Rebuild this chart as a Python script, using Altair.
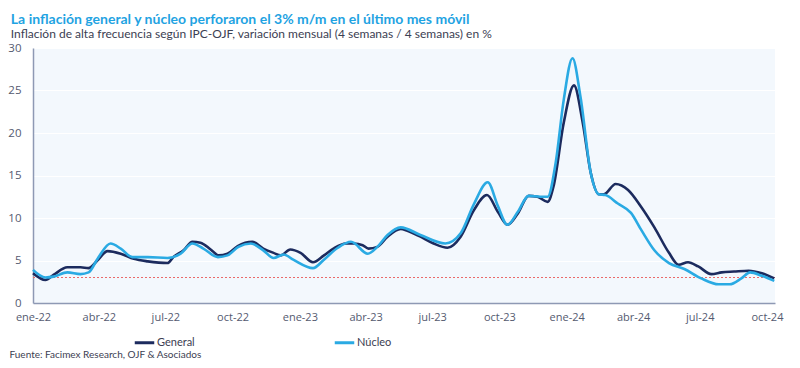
import altair as alt
import pandas as pd

# ---- data ----
gen_dates = [
    "2022-01-01", "2022-01-18", "2022-01-29", "2022-02-17", "2022-03-07", "2022-03-18",
    "2022-03-30", "2022-04-13", "2022-05-01", "2022-05-19", "2022-06-07", "2022-07-04",
    "2022-07-12", "2022-07-26", "2022-08-07", "2022-08-18", "2022-09-01", "2022-09-12",
    "2022-09-24", "2022-10-08", "2022-10-28", "2022-11-12", "2022-11-26", "2022-12-06",
    "2022-12-19", "2023-01-02", "2023-01-19", "2023-02-03", "2023-02-16", "2023-03-05",
    "2023-03-16", "2023-03-28", "2023-04-05", "2023-04-17", "2023-05-01", "2023-05-19",
    "2023-05-28", "2023-06-15", "2023-07-03", "2023-07-22", "2023-08-09", "2023-08-27",
    "2023-09-14", "2023-09-29", "2023-10-12", "2023-10-26", "2023-11-10", "2023-11-22",
    "2023-12-06", "2023-12-14", "2023-12-28", "2024-01-11", "2024-01-23", "2024-02-03",
    "2024-02-14", "2024-02-21", "2024-03-08", "2024-03-25", "2024-04-12", "2024-04-30",
    "2024-05-20", "2024-06-02", "2024-06-15", "2024-06-29", "2024-07-17", "2024-07-31",
    "2024-08-17", "2024-09-06", "2024-09-24", "2024-10-11",
]
gen_values = [
    3.5, 2.7, 3.3, 4.2, 4.2, 4.1,
    5.0, 6.1, 5.8, 5.2, 4.9, 4.7,
    5.4, 6.2, 7.2, 7.1, 6.3, 5.6,
    5.8, 6.7, 7.2, 6.4, 5.9, 5.6,
    6.3, 5.9, 4.8, 5.6, 6.4, 7.0,
    7.0, 6.8, 6.4, 6.6, 7.8, 8.7,
    8.5, 7.8, 7.0, 6.5, 7.8, 10.9,
    12.7, 10.7, 9.2, 10.5, 12.6, 12.5,
    11.9, 13.7, 21.2, 25.6, 21.2, 15.3,
    12.8, 12.8, 14.0, 13.3, 11.3, 8.9,
    5.9, 4.5, 4.8, 4.3, 3.4, 3.6,
    3.7, 3.8, 3.5, 2.9,
]

nuc_dates = [
    "2022-01-01", "2022-01-18", "2022-01-29", "2022-02-17", "2022-03-07", "2022-03-18",
    "2022-03-31", "2022-04-17", "2022-05-01", "2022-05-17", "2022-06-07", "2022-07-04",
    "2022-07-22", "2022-08-07", "2022-08-22", "2022-09-11", "2022-09-24", "2022-10-09",
    "2022-10-26", "2022-11-12", "2022-11-26", "2022-12-10", "2022-12-23", "2023-01-19",
    "2023-02-03", "2023-02-22", "2023-03-12", "2023-04-04", "2023-04-17", "2023-05-01",
    "2023-05-19", "2023-06-15", "2023-07-19", "2023-08-09", "2023-08-27", "2023-09-15",
    "2023-09-29", "2023-10-12", "2023-10-26", "2023-11-10", "2023-11-26", "2023-12-06",
    "2023-12-17", "2023-12-28", "2024-01-09", "2024-01-20", "2024-02-03", "2024-02-14",
    "2024-02-23", "2024-03-11", "2024-03-29", "2024-04-12", "2024-04-30", "2024-05-20",
    "2024-06-10", "2024-07-03", "2024-07-27", "2024-08-11", "2024-08-27", "2024-09-08",
    "2024-09-24", "2024-10-11",
]
nuc_values = [
    3.9, 3.0, 3.1, 3.6, 3.4, 3.6,
    5.3, 7.0, 6.4, 5.4, 5.4, 5.3,
    5.8, 7.0, 6.4, 5.4, 5.6, 6.6,
    7.0, 6.2, 5.3, 5.7, 5.1, 4.1,
    5.1, 6.5, 7.2, 5.8, 6.6, 8.0,
    8.9, 8.0, 7.0, 8.2, 11.6, 14.2,
    11.4, 9.2, 10.7, 12.6, 12.5, 12.5,
    16.5, 23.9, 28.8, 24.2, 15.3, 12.8,
    12.7, 11.7, 10.6, 8.6, 6.2, 4.7,
    4.0, 2.9, 2.2, 2.2, 2.9, 3.6,
    3.2, 2.6,
]

series_names = ["General", "Núcleo"]
series_colors = ["#1c2b5e", "#2aaae3"]
threshold = [3]
tick_dates = ["2022-01-01", "2022-04-01", "2022-07-01", "2022-10-01",
              "2023-01-01", "2023-04-01", "2023-07-01", "2023-10-01",
              "2024-01-01", "2024-04-01", "2024-07-01", "2024-10-01"]
month_abbr = ["ene", "feb", "mar", "abr", "may", "jun", "jul", "ago", "sep", "oct", "nov", "dic"]

title_text = "La inflación general y núcleo perforaron el 3% m/m en el último mes móvil"
subtitle_text = "Inflación de alta frecuencia según IPC-OJF, variación mensual (4 semanas / 4 semanas) en %"
source_text = "Fuente: Facimex Research, OJF & Asociados"

# ---- build tables ----
df = pd.concat([
    pd.DataFrame({"fecha": gen_dates, "valor": gen_values, "serie": series_names[0]}),
    pd.DataFrame({"fecha": nuc_dates, "valor": nuc_values, "serie": series_names[1]}),
])
thr_df = pd.DataFrame({"y": threshold})

def _dt(s):
    y, m, d = (int(p) for p in s.split("-"))
    return alt.DateTime(year=y, month=m, date=d, utc=True)

label_expr = ("[" + ",".join("'%s'" % m for m in month_abbr) + "][utcmonth(datum.value)] "
              "+ '-' + utcFormat(datum.value, '%y')")

x_scale = alt.Scale(type="utc", domain=[_dt("2022-01-01"), _dt("2024-10-12")], nice=False)
y_scale = alt.Scale(domain=[0, 30], nice=False)

lines = alt.Chart(df).mark_line(strokeWidth=2.6, interpolate="monotone").encode(
    x=alt.X("fecha:T", scale=x_scale,
            axis=alt.Axis(values=[_dt(t) for t in tick_dates], labelExpr=label_expr,
                          grid=False, ticks=False, domain=True, domainColor="#8e99b4",
                          domainWidth=1.5, labelPadding=8, labelFontSize=11,
                          labelFlush=False, labelOverlap=False,
                          labelColor="#545a70", labelFont="Open Sans",
                          title=source_text, titleAnchor="start", titleX=-24, titleY=56,
                          titleFontSize=10, titleFontWeight="normal", titleColor="#3c4052",
                          titleFont="Lato", titleBaseline="bottom")),
    y=alt.Y("valor:Q", scale=y_scale,
            axis=alt.Axis(values=[0, 5, 10, 15, 20, 25, 30], grid=True, gridColor="#ffffff",
                          gridWidth=1, ticks=False, domain=True, domainColor="#8e99b4",
                          domainWidth=1.5, labelPadding=12, labelFontSize=11.5,
                          labelColor="#545a70", labelFont="Open Sans", title=None)),
    color=alt.Color("serie:N", scale=alt.Scale(domain=series_names, range=series_colors),
                    legend=alt.Legend(title=None, orient="none", direction="horizontal",
                                      legendX=100, legendY=283, symbolType="stroke",
                                      symbolSize=380, symbolStrokeWidth=3,
                                      columnPadding=133, labelFontSize=11,
                                      labelColor="#3c4052", labelFont="Lato", labelOffset=1)),
)

rule = alt.Chart(thr_df).mark_rule(color="#ea6a6a", strokeDash=[2, 2], strokeWidth=1.2).encode(
    y=alt.Y("y:Q", scale=y_scale)
)

chart = alt.layer(rule, lines).properties(
    width=742, height=255,
    title=alt.Title(text=title_text, subtitle=subtitle_text, anchor="start", dx=3,
                    offset=2, font="Lato", fontSize=14, fontWeight="bold", color="#1fa3e2",
                    subtitleFont="Lato", subtitleFontSize=12, subtitleColor="#3c4052",
                    subtitlePadding=2),
    autosize=alt.AutoSizeParams(type="none"),
    padding={"left": 25, "top": 40, "right": 17, "bottom": 57},
).configure_view(fill="#f3f8fd", stroke=None)

chart.save("out.html", embed_options={"renderer": "svg", "actions": False})
